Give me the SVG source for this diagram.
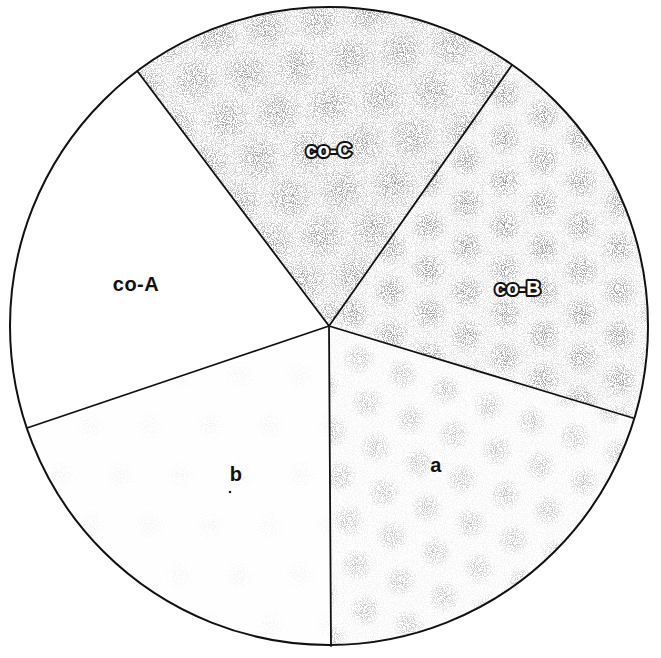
<svg xmlns="http://www.w3.org/2000/svg" width="661" height="658" viewBox="0 0 661 658">
<style>
.sector{stroke:none}
.spoke{stroke:#111;stroke-width:1.8;fill:none;stroke-linecap:round}
.rim{stroke:#111;stroke-width:2;fill:none}
.lbl{font-family:"Liberation Sans",Arial,sans-serif;font-weight:bold;font-size:20px;text-anchor:middle;fill:#111;letter-spacing:0.5px}
.out{fill:#fff;stroke:#111;stroke-width:4;paint-order:stroke;stroke-linejoin:round}
</style>
<defs>
<radialGradient id="blob">
<stop offset="0" stop-color="#000" stop-opacity="0.85"/>
<stop offset="0.55" stop-color="#000" stop-opacity="0.45"/>
<stop offset="1" stop-color="#000" stop-opacity="0"/>
</radialGradient>
<pattern id="pC" width="52" height="86" patternUnits="userSpaceOnUse" patternTransform="rotate(-8)">
<rect width="52" height="86" fill="#000" fill-opacity="0.3"/>
<circle cx="26" cy="21" r="24" fill="url(#blob)" fill-opacity="0.7"/>
<circle cx="0" cy="64" r="24" fill="url(#blob)" fill-opacity="0.7"/>
<circle cx="52" cy="64" r="24" fill="url(#blob)" fill-opacity="0.7"/>
</pattern>
<pattern id="pB" width="44" height="76" patternUnits="userSpaceOnUse" patternTransform="rotate(30)">
<rect width="44" height="76" fill="#000" fill-opacity="0.2"/>
<circle cx="22" cy="19" r="18" fill="url(#blob)" fill-opacity="0.85"/>
<circle cx="0" cy="57" r="18" fill="url(#blob)" fill-opacity="0.85"/>
<circle cx="44" cy="57" r="18" fill="url(#blob)" fill-opacity="0.85"/>
</pattern>
<pattern id="pA" width="46" height="78" patternUnits="userSpaceOnUse" patternTransform="rotate(20)">
<rect width="46" height="78" fill="#000" fill-opacity="0.08"/>
<circle cx="23" cy="19" r="17" fill="url(#blob)" fill-opacity="0.5"/>
<circle cx="0" cy="58" r="17" fill="url(#blob)" fill-opacity="0.5"/>
<circle cx="46" cy="58" r="17" fill="url(#blob)" fill-opacity="0.5"/>
</pattern>
<pattern id="pb" width="60" height="100" patternUnits="userSpaceOnUse">
<rect width="60" height="100" fill="#000" fill-opacity="0.015"/>
<circle cx="30" cy="25" r="15" fill="url(#blob)" fill-opacity="0.09"/>
<circle cx="0" cy="75" r="15" fill="url(#blob)" fill-opacity="0.09"/>
<circle cx="60" cy="75" r="15" fill="url(#blob)" fill-opacity="0.09"/>
</pattern>
<filter id="stip" x="0" y="0" width="100%" height="100%" color-interpolation-filters="sRGB">
<feTurbulence type="fractalNoise" baseFrequency="0.9" numOctaves="1" seed="4" result="n"/>
<feColorMatrix in="n" type="matrix" values="0 0 0 0 0.5  0 0 0 0 0.5  0 0 0 0 0.5  9 0 0 0 -4.3" result="d"/>
<feComposite in="d" in2="SourceGraphic" operator="in" result="s"/>
<feComposite in="s" in2="SourceGraphic" operator="arithmetic" k1="0" k2="1.1" k3="0" k4="0"/>
</filter>
</defs>
<rect width="661" height="658" fill="#fff"/>
<g id="sector-co-C">
<path class="sector" d="M329,326 L138,72 A319,319 0 0 1 512,65 Z" fill="url(#pC)" filter="url(#stip)"/>
<text class="lbl out" x="329" y="157">co-C</text>
</g>
<g id="sector-co-B">
<path class="sector" d="M329,326 L512,65 A319,319 0 0 1 633,418 Z" fill="url(#pB)" filter="url(#stip)"/>
<text class="lbl out" x="518" y="295">co-B</text>
</g>
<g id="sector-a">
<path class="sector" d="M329,326 L633,418 A319,319 0 0 1 331,646 Z" fill="url(#pA)" filter="url(#stip)"/>
<text class="lbl" x="436" y="472">a</text>
</g>
<g id="sector-b">
<path class="sector" d="M329,326 L331,646 A319,319 0 0 1 27,428 Z" fill="url(#pb)" filter="url(#stip)"/>
<text class="lbl" x="236" y="481">b</text>
<circle cx="230" cy="492" r="1.3" fill="#222"/>
</g>
<g id="sector-co-A">
<path class="sector" d="M329,326 L27,428 A319,319 0 0 1 138,72 Z" fill="#fff"/>
<text class="lbl" x="136" y="291">co-A</text>
</g>
<g id="connectors">
<line class="spoke" x1="329" y1="326" x2="138" y2="72"/>
<line class="spoke" x1="329" y1="326" x2="512" y2="65"/>
<line class="spoke" x1="329" y1="326" x2="633" y2="418"/>
<line class="spoke" x1="329" y1="326" x2="331" y2="646"/>
<line class="spoke" x1="329" y1="326" x2="27" y2="428"/>
<circle class="rim" cx="329" cy="326" r="319"/>
</g>
</svg>
